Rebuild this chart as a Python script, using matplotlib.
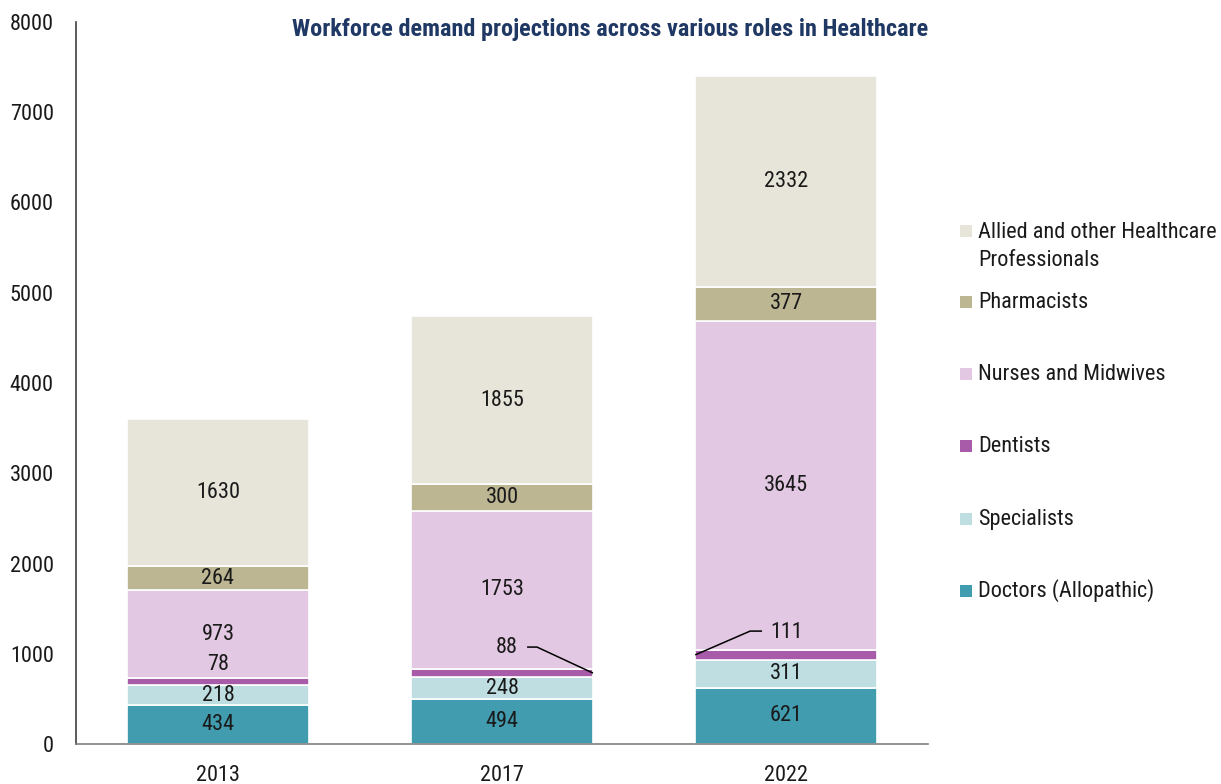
import matplotlib.pyplot as plt
from matplotlib.patches import Rectangle
import numpy as np

plt.rcParams["font.family"] = ["Roboto Condensed", "Liberation Sans Narrow",
                               "Roboto", "DejaVu Sans"]

years = ["2013", "2017", "2022"]
roles = [
    "Doctors (Allopathic)",
    "Specialists",
    "Dentists",
    "Nurses and Midwives",
    "Pharmacists",
    "Allied and other Healthcare\nProfessionals",
]
doctors = [434, 494, 621]
specialists = [218, 248, 311]
dentists = [78, 88, 111]
nurses = [973, 1753, 3645]
pharmacists = [264, 300, 377]
allied = [1630, 1855, 2332]

colors = ["#409CAE", "#BFDEE2", "#A85BA8", "#E3C8E3", "#BCB693", "#E7E5D9"]

series = [doctors, specialists, dentists, nurses, pharmacists, allied]

fig = plt.figure(figsize=(12.21, 7.84), dpi=100)
ax = fig.add_axes([0.0622, 0.051, 0.698, 0.921])

fs = 16
x = np.arange(len(years))
width = 0.64
bottom = np.zeros(len(years))
bottoms = []
for vals, col in zip(series, colors):
    bars = ax.bar(x, vals, width, bottom=bottom, color=col,
                  edgecolor="white", linewidth=1.2)
    bottoms.append(bottom.copy())
    if vals is not dentists:
        ax.bar_label(bars, labels=[str(v) for v in vals], label_type="center",
                     fontsize=fs, color="#1a1a1a")
    bottom += np.array(vals)

# dentist labels sit above the thin segment, two with leader lines
dent_mid = bottoms[2] + np.array(dentists) / 2
label_y = [886, 1064, 1241]
label_dx = [0.0, 0.018, 0.0]
for i, v in enumerate(dentists):
    ax.text(x[i] + label_dx[i], label_y[i], str(v), ha="center", va="center",
            fontsize=fs, color="#1a1a1a")

right = x[1] + width / 2
ax.plot([right, x[1] + 0.123, x[1] + 0.088],
        [dent_mid[1], label_y[1] + 10, label_y[1] + 10],
        color="black", lw=1.1, solid_capstyle="butt")
left = x[2] - width / 2
ax.plot([left, x[2] - 0.127, x[2] - 0.085],
        [dent_mid[2], label_y[2] + 10, label_y[2] + 10],
        color="black", lw=1.1, solid_capstyle="butt")

ax.set_xlim(-0.5, 2.5)
ax.set_ylim(0, 8000)
ax.set_yticks(np.arange(0, 8001, 1000))
ax.set_xticks(x)
ax.set_xticklabels(years)
ax.tick_params(axis="y", length=0, pad=16, labelsize=fs, labelcolor="#1a1a1a")
ax.tick_params(axis="x", length=0, pad=15, labelsize=fs, labelcolor="#1a1a1a")
for s in ["top", "right"]:
    ax.spines[s].set_visible(False)
ax.spines["left"].set_color("#404040")
ax.spines["bottom"].set_color("#808080")
ax.spines["left"].set_linewidth(1.2)
ax.spines["bottom"].set_linewidth(1.2)

fig.text(0.5, 0.962, "Workforce demand projections across various roles in Healthcare",
         ha="center", va="center", fontsize=17.5, fontweight="bold", color="#1F3864")

# legend drawn by hand, top entry first
legend_y = [231, 302, 374, 446, 519, 591]
H, W = 784, 1221
for role, col, yp in zip(roles[::-1], colors[::-1], legend_y):
    fig.add_artist(Rectangle((960 / W, 1 - (yp + 6) / H), 12 / W, 12 / H,
                             transform=fig.transFigure, facecolor=col,
                             edgecolor="none"))
    fig.text(978 / W, 1 - (yp - 9) / H if "\n" in role else 1 - yp / H, role,
             ha="left", va="top" if "\n" in role else "center",
             fontsize=fs, color="#1a1a1a", linespacing=1.45,
             transform=fig.transFigure)

fig.savefig("out.png", dpi=100)
